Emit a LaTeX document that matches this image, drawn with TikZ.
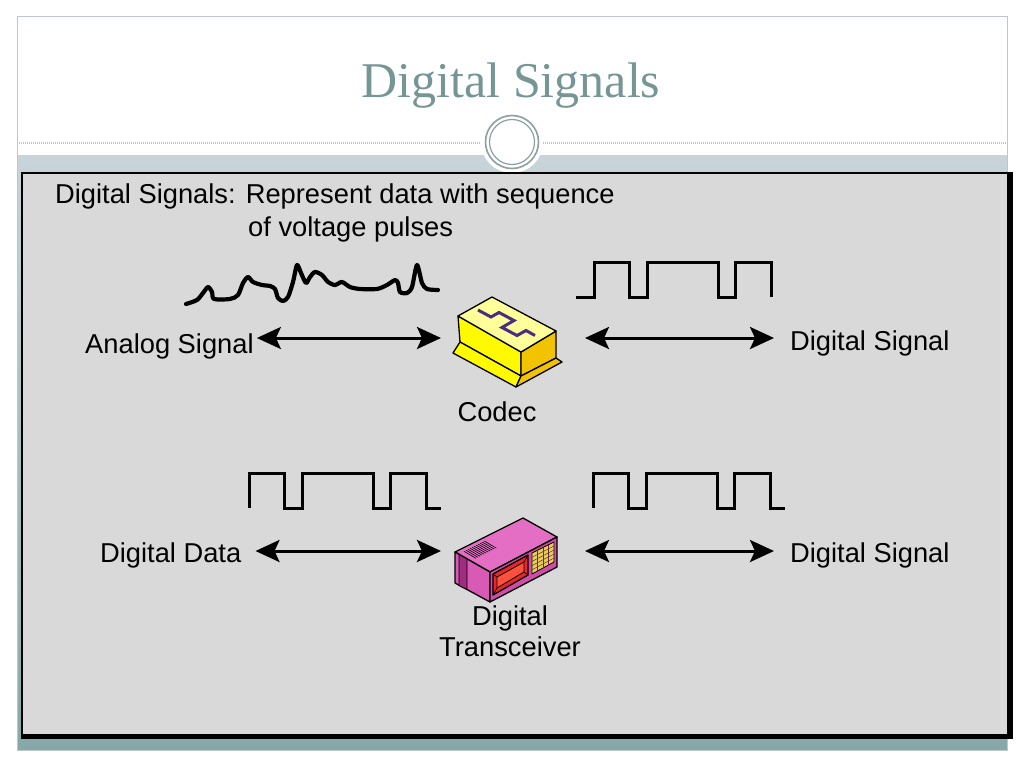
\documentclass[tikz,border=0pt]{standalone}
\usepackage{fontspec}
\setmainfont{Liberation Sans}
\newfontfamily\titlefont{Liberation Serif}
\usetikzlibrary{calc,arrows.meta}
\definecolor{slidetitle}{RGB}{118,150,150}
\definecolor{bandtop}{RGB}{200,212,218}
\definecolor{bandbot}{RGB}{134,168,168}
\definecolor{panel}{RGB}{217,217,217}
\definecolor{ringgray}{RGB}{140,160,160}
\definecolor{framegray}{RGB}{190,200,200}
\definecolor{codectop}{RGB}{255,255,153}
\definecolor{codecfront}{RGB}{255,250,0}
\definecolor{codecside}{RGB}{242,195,0}
\definecolor{codecwave}{RGB}{74,44,128}
\definecolor{xcvrtop}{RGB}{228,110,196}
\definecolor{xcvrend}{RGB}{216,90,180}
\definecolor{xcvrlong}{RGB}{208,76,168}
\definecolor{xcvrdark}{RGB}{160,44,128}
\definecolor{xcvrred}{RGB}{232,40,40}
\definecolor{xcvrredin}{RGB}{255,80,60}
\definecolor{xcvrkeys}{RGB}{230,210,74}
\tikzset{
	pulse/.style={line width=3pt, line join=miter},
	biarrow/.style={line width=3pt, {Stealth[length=24pt,width=22pt,inset=5pt]}-{Stealth[length=24pt,width=22pt,inset=5pt]}},
	lbl/.style={inner sep=0pt, anchor=base west, font=\fontsize{27.3}{31}\selectfont},
	face/.style={draw=black, line width=1.3pt, line join=round},
}
\def\pulsetrain(#1,#2)(#3:#4){\draw[pulse] ($(#1,#2)-(#3,0)$) -- ++(#3,0) -- ++(0,-35) -- ++(35,0) -- ++(0,35) -- ++(18,0) -- ++(0,-35) -- ++(71,0) -- ++(0,35) -- ++(17,0) -- ++(0,-35) -- ++(36,0) -- ++(0,35) -- ++(#4,0);}

\begin{document}
\begin{tikzpicture}[x=1pt, y=-1pt]
			%%%%% SLIDE %%%%%
			\useasboundingbox (0,0) rectangle (1024,768);
			\fill[white] (0,0) rectangle (1024,768);
			
			\shade[top color=bandtop, bottom color=bandbot] (17,155) rectangle (1007,750);
			\draw[framegray, line width=1pt] (17,17) rectangle (1007,750);
			\draw[framegray, line width=1.2pt, dash pattern=on 1pt off 1pt] (17,143) -- (1007,143);
			
			\fill[white] (512,142) circle (31);
			\draw[ringgray, line width=1.6pt] (512,142) circle (26.5);
			\draw[ringgray, line width=1.2pt] (512,142) circle (22.5);
			
			\node[font=\titlefont\fontsize{50}{60}\selectfont, text=slidetitle, anchor=base, inner sep=0pt] (title) at (511,97) {Digital Signals};
			
			\fill[black] (21,172) rectangle (1013,739);
			\fill[panel] (23,174) rectangle (1007,734);
			
			%%%%% TEXT %%%%%
			\node[lbl] (intro1) at (55,203) {Digital Signals: Represent data with sequence};
			\node[lbl] (intro2) at (248,236) {of voltage pulses};
			\node[lbl] (analog) at (85,353) {Analog Signal};
			\node[lbl] (dsigA) at (790,350) {Digital Signal};
			\node[lbl, anchor=base] (codeclbl) at (497,421) {Codec};
			\node[lbl] (ddata) at (100,562) {Digital Data};
			\node[lbl] (dsigB) at (790,562) {Digital Signal};
			\node[lbl, anchor=north, align=center] (xcvrlbl) at (510,606) {Digital\\Transceiver};
			
			%%%%% SIGNALS %%%%%
			\draw[line width=4.2pt, line cap=round, line join=round] plot[smooth, tension=0.45] coordinates {(186,304) (197,300) (203,293) (208,287) (212,292) (214,299) (230,299) (238,295) (243,283) (248,277) (253,282) (262,285) (270,286) (275,289) (278,298) (283,301) (288,297) (293,282) (297,265) (301,273) (306,283) (310,277) (315,272) (322,275) (328,282) (335,285) (342,282) (350,287) (360,289) (377,289) (387,285) (395,280) (398,283) (400,292) (407,293) (412,287) (417,265) (422,283) (427,289) (438,290)};
			
			\pulsetrain(594,297)(18:0)
			\pulsetrain(249,508)(0:15)
			\pulsetrain(593,508)(0:15)
			
			%%%%% CODEC %%%%%
			\filldraw[face, fill=codecfront] (458,316) -- (521,352) -- (521,376) -- (460,342) -- cycle;
			\filldraw[face, fill=codecfront] (460,342) -- (521,376) -- (516,387) -- (453,353) -- cycle;
			\filldraw[face, fill=codecside] (521,352) -- (556,331) -- (556,358) -- (521,376) -- cycle;
			\filldraw[face, fill=codecside] (521,376) -- (556,358) -- (562,362) -- (516,387) -- cycle;
			\filldraw[face, fill=codectop] (458,316) -- (492,297) -- (556,331) -- (521,352) -- cycle;
			\draw[line width=3pt, color=codecwave] (478,310) -- (491,317) -- (499,312.5) -- (514,320.5) -- (502,327.5) -- (517,335.5) -- (526,330.5) -- (535,335.5);
			
			%%%%% TRANSCEIVER %%%%%
			\filldraw[face, fill=xcvrtop] (455,552) -- (523,518) -- (557,537) -- (490,572) -- cycle;
			\filldraw[face, fill=xcvrend] (455,552) -- (490,572) -- (490,602) -- (455,583) -- cycle;
			\filldraw[face, fill=xcvrdark, line width=0.8pt] (459,554.5) -- (467,559) -- (467,589.5) -- (459,585.5) -- cycle;
			\filldraw[face, fill=xcvrlong] (490,572) -- (557,537) -- (557,567) -- (490,602) -- cycle;
			\filldraw[face, fill=xcvrred] (493,574) -- (528,555) -- (528,575) -- (493,595) -- cycle;
			\filldraw[face, fill=xcvrredin, line width=0.8pt] (497,577) -- (524,562) -- (524,572) -- (497,588) -- cycle;
			\draw[line width=0.6pt] (493,574) -- (497,577) (528,555) -- (524,562) (528,575) -- (524,572) (493,595) -- (497,588);
			\filldraw[face, fill=xcvrkeys, line width=0.8pt] (532,553) -- (554,542) -- (554,562) -- (532,574) -- cycle;
			\foreach \k in {0.25,0.5,0.75}
				\draw[xcvrdark!70!black, line width=0.5pt] ($(532,553)!\k!(554,542)$) -- ($(532,574)!\k!(554,562)$);
			\foreach \k in {0.2,0.4,0.6,0.8}
				\draw[xcvrdark!70!black, line width=0.5pt] ($(532,553)!\k!(532,574)$) -- ($(554,542)!\k!(554,562)$);
			\foreach \t in {0.08,0.11,...,0.39}
				\draw[black, line width=0.6pt] ($(455,552)+\t*(68,-34)+0.1*(35,20)$) -- ++(12,7);
			
			%%%%% ARROWS %%%%%
			\coordinate (codecW) at (441,338);
			\coordinate (codecE) at (585,338);
			\coordinate (xcvrW) at (441,551);
			\coordinate (xcvrE) at (585,551);
			\draw[biarrow] ($(analog.east |- codecW)+(3,0)$) -- (codecW);
			\draw[biarrow] (codecE) -- ($(dsigA.west |- codecE)+(-16,0)$);
			\draw[biarrow] ($(ddata.east |- xcvrW)+(14,0)$) -- (xcvrW);
			\draw[biarrow] (xcvrE) -- ($(dsigB.west |- xcvrE)+(-16,0)$);
			
			%%%%% END %%%%%
\end{tikzpicture}
\end{document}
